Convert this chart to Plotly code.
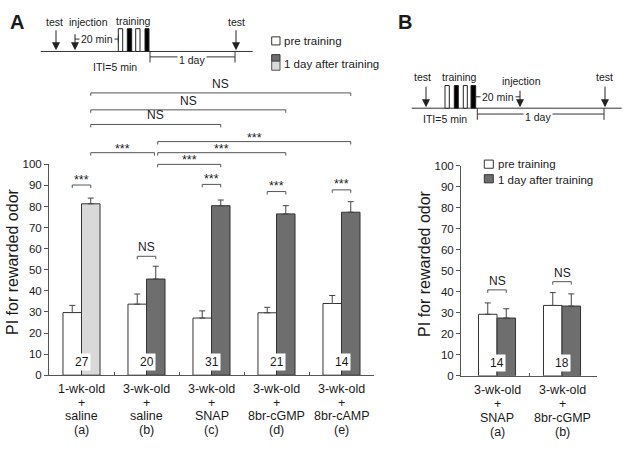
import plotly.graph_objects as go

# ---------------- data ----------------
groups_A = [0, 1, 2, 3, 4]
line1_A = ["1-wk-old", "3-wk-old", "3-wk-old", "3-wk-old", "3-wk-old"]
line2_A = ["+", "+", "+", "+", "+"]
line3_A = ["saline", "saline", "SNAP", "8br-cGMP", "8br-cAMP"]
line4_A = ["(a)", "(b)", "(c)", "(d)", "(e)"]
pre_A = [29.7, 33.7, 27.1, 29.6, 34.0]
pre_err_A = [3.4, 4.8, 3.4, 2.6, 3.8]
post_A = [81.3, 45.6, 80.4, 76.5, 77.3]
post_err_A = [2.7, 6.1, 2.7, 3.9, 5.0]
n_A = ["27", "20", "31", "21", "14"]

groups_B = [0, 1]
line1_B = ["3-wk-old", "3-wk-old"]
line2_B = ["+", "+"]
line3_B = ["SNAP", "8br-cGMP"]
line4_B = ["(a)", "(b)"]
pre_B = [29.3, 33.5]
pre_err_B = [5.4, 6.1]
post_B = [27.5, 33.2]
post_err_B = [4.4, 5.8]
n_B = ["14", "18"]

legend_labels = ["pre training", "1 day after training"]
y_title = "PI for rewarded odor"

# within-group comparisons (group, bracket level, label)
within_A = [(0, 90.2, "***"), (1, 56.4, "NS"), (2, 90.5, "***"), (3, 87.1, "***"), (4, 87.9, "***")]
within_B = [(0, 40.9, "NS"), (1, 44.8, "NS")]
# between-group comparisons of post-training bars (from, to, label)
between_A = [(0, 4, "NS"), (0, 3, "NS"), (0, 2, "NS"), (1, 4, "***"),
             (0, 1, "***"), (1, 3, "***"), (1, 2, "***")]
between_rows_px = [89.3, 106.7, 121.7, 139.3, 150.7, 150.7, 162.7]

# ---------------- style ----------------
W, H = 630, 450
FONT = "Liberation Sans, Arial, sans-serif"
TXT = "#1a1a1a"
LINE = "#555555"
DARK = "#6e6e6e"
LIGHT = "#d9d9d9"
BW = 0.285  # bar width in category units


def px(x):
    return x / W


def py(y):
    return 1 - y / H


fig = go.Figure()


def err(arr):
    return dict(type="data", array=arr, arrayminus=[0] * len(arr), symmetric=False,
                color="#444", thickness=1, width=3)


fig.add_trace(go.Bar(x=groups_A, y=pre_A, error_y=err(pre_err_A), offsetgroup="pre",
                     marker=dict(color="white", line=dict(color="#333", width=1)),
                     xaxis="x", yaxis="y", showlegend=False, name=legend_labels[0]))
fig.add_trace(go.Bar(x=groups_A, y=post_A, error_y=err(post_err_A), offsetgroup="post",
                     marker=dict(color=[LIGHT] + [DARK] * 4, line=dict(color="#333", width=1)),
                     xaxis="x", yaxis="y", showlegend=False, name=legend_labels[1]))
fig.add_trace(go.Bar(x=groups_B, y=pre_B, error_y=err(pre_err_B), offsetgroup="pre",
                     marker=dict(color="white", line=dict(color="#333", width=1)),
                     xaxis="x2", yaxis="y2", showlegend=False, name=legend_labels[0]))
fig.add_trace(go.Bar(x=groups_B, y=post_B, error_y=err(post_err_B), offsetgroup="post",
                     marker=dict(color=DARK, line=dict(color="#333", width=1)),
                     xaxis="x2", yaxis="y2", showlegend=False, name=legend_labels[1]))

shapes = []
ann = []


def text(x, y, s, size=12, xref="paper", yref="paper", xanchor="center", yanchor="middle",
         bg=None, **kw):
    d = dict(x=x, y=y, text=s, xref=xref, yref=yref, showarrow=False, xanchor=xanchor,
             yanchor=yanchor, font=dict(family=FONT, size=size, color=TXT), borderpad=0)
    if bg:
        d["bgcolor"] = bg
    d.update(kw)
    ann.append(d)


def line(x0, y0, x1, y1, color=LINE, width=1, xref="paper", yref="paper"):
    shapes.append(dict(type="line", x0=x0, y0=y0, x1=x1, y1=y1, xref=xref, yref=yref,
                       line=dict(color=color, width=width)))


def rect(x0, y0, x1, y1, fill, color="#222", xref="paper", yref="paper", width=1):
    shapes.append(dict(type="rect", x0=x0, y0=y0, x1=x1, y1=y1, xref=xref, yref=yref,
                       fillcolor=fill, line=dict(color=color, width=width)))


def bracket(x0, x1, y, drop, xref, yref):
    shapes.append(dict(type="path", xref=xref, yref=yref,
                       path=f"M {x0},{y - drop} L {x0},{y} L {x1},{y} L {x1},{y - drop}",
                       line=dict(color=LINE, width=1)))


def arrow(x, tip, tail):
    ann.append(dict(x=px(x), y=py(tip), xref="paper", yref="paper", text="", showarrow=True,
                    ax=0, ay=-(tip - tail), axref="pixel", ayref="pixel", arrowhead=2,
                    arrowsize=1.6, arrowwidth=1, arrowcolor="#222", standoff=0))


# ---- within-group brackets ----
for xr, yr, within in (("x", "y", within_A), ("x2", "y2", within_B)):
    for g, lvl, lab in within:
        bracket(g - BW / 2, g + BW / 2, lvl, 1.4, xr, yr)
        if lab == "NS":
            text(g, lvl + 4.3, lab, size=12, xref=xr, yref=yr)
        else:
            text(g, lvl + 2.6, lab, size=12.5, xref=xr, yref=yr)

# ---- between-group brackets (post bars) ----
for (g0, g1, lab), ypx in zip(between_A, between_rows_px):
    x0 = g0 + BW / 2 + (0.03 if g0 == 1 else 0.0)
    x1 = g1 + BW / 2 - (0.02 if g1 == 1 else 0.0)
    bracket(x0, x1, py(ypx), 3 / H, "x", "paper")
    if lab == "NS":
        text((x0 + x1) / 2, py(ypx - 9.5), lab, size=12, xref="x")
    else:
        text((x0 + x1) / 2, py(ypx - 4.0), lab, size=12.5, xref="x")

# ---- n labels ----
for g, n in zip(groups_A, n_A):
    text(g, 6.3, n, size=12, xref="x", yref="y", bg="white", borderpad=1)
for g, n in zip(groups_B, n_B):
    text(g, 6.2, n, size=12, xref="x2", yref="y2", bg="white", borderpad=1)

# ---- category labels ----
for xr, groups, lines, y0 in (("x", groups_A, (line1_A, line2_A, line3_A, line4_A), 393.3),
                              ("x2", groups_B, (line1_B, line2_B, line3_B, line4_B), 394.8)):
    for k, lst in enumerate(lines):
        for g, s in zip(groups, lst):
            text(g, py(y0 + 14.2 * k), s, size=12.5, xref=xr)

# ---- y titles ----
text(px(13), py(263), y_title, size=16, textangle=-90)
text(px(425), py(265), y_title, size=16, textangle=-90)

# ---- panel letters ----
text(px(16.7), py(16.3), "<b>A</b>", size=20)
text(px(405.3), py(16.3), "<b>B</b>", size=20)

# ---- timeline A ----
line(px(40.7), py(46.7), px(252.7), py(46.7), color="#333")
text(px(54), py(16), "test", size=10.5)
arrow(56, 45.5, 24)
text(px(88), py(16), "injection", size=10.5)
arrow(75, 45.5, 28)
text(px(133), py(15), "training", size=10.5)
for x0, x1, f in ((118.3, 122.7, "white"), (127.3, 131.7, "black"), (135.7, 140, "white"), (145, 149, "black")):
    rect(px(x0), py(46.7), px(x1), py(23.3), f)
line(px(75), py(34), px(118.3), py(34), color="#333")
line(px(118.3), py(30.5), px(118.3), py(37.5), color="#333")
text(px(97), py(34), "20 min", size=10.5, bg="white", borderpad=1)
text(px(236), py(16), "test", size=10.5)
arrow(236, 45.5, 24)
text(px(115), py(62.5), "ITI=5 min", size=10.5)
line(px(150), py(52.3), px(235), py(52.3), color="#333")
line(px(150), py(47), px(150), py(58), color="#333")
line(px(235), py(47), px(235), py(58), color="#333")
text(px(192), py(55.5), "1 day", size=10.5, bg="white", borderpad=1)
# legend A
rect(px(271.7), py(40), px(280), py(31.7), "white", color="#333")
rect(px(271.7), py(56.7), px(280), py(50), DARK, color="#333")
rect(px(271.7), py(66), px(280), py(56.7), LIGHT, color="#555")
text(px(283.3), py(36), legend_labels[0], size=11.5, xanchor="left")
text(px(283.3), py(60), legend_labels[1], size=11.5, xanchor="left")

# ---- timeline B ----
line(px(411.7), py(105), px(621.7), py(105), color="#333")
text(px(422.7), py(73), "test", size=10.5)
arrow(426, 104, 82)
text(px(459.3), py(72.7), "training", size=10.5)
for x0, x1, f in ((445, 449.3, "white"), (454.3, 458.3, "black"), (463.3, 467.3, "white"), (471, 475.7, "black")):
    rect(px(x0), py(105), px(x1), py(81.7), f)
line(px(475.7), py(93.3), px(520), py(93.3), color="#333")
text(px(498.3), py(93.3), "20 min", size=10.5, bg="white", borderpad=1)
text(px(521.7), py(77.3), "injection", size=10.5)
arrow(520, 104, 86)
text(px(604.3), py(73), "test", size=10.5)
arrow(605, 104, 82)
text(px(445), py(115.7), "ITI=5 min", size=10.5)
line(px(477.3), py(111), px(604), py(111), color="#333")
line(px(477.3), py(105), px(477.3), py(117), color="#333")
line(px(604), py(105), px(604), py(117), color="#333")
text(px(538.3), py(114.5), "1 day", size=10.5, bg="white", borderpad=1)
# legend B
rect(px(484.3), py(166.7), px(493.3), py(158.3), "white", color="#333")
rect(px(484.3), py(181.7), px(493.3), py(173.3), DARK, color="#333")
text(px(496.7), py(162.7), legend_labels[0], size=11.5, xanchor="left")
text(px(496.7), py(178.3), legend_labels[1], size=11.5, xanchor="left")

ax_common = dict(showline=True, linecolor=LINE, linewidth=1, showgrid=False, zeroline=False)
fig.update_layout(
    width=W, height=H, autosize=False,
    margin=dict(l=0, r=0, t=0, b=0),
    paper_bgcolor="white", plot_bgcolor="white",
    barmode="group", bargap=0.43, bargroupgap=0,
    font=dict(family=FONT, color=TXT),
    xaxis=dict(domain=[px(49), px(374)], range=[-0.5, 4.5], anchor="y", ticks="inside",
               tickvals=[0.5, 1.5, 2.5, 3.5], ticklen=3, tickcolor=LINE,
               showticklabels=False, **ax_common),
    yaxis=dict(domain=[py(379.3), py(162.7)], range=[0, 100], anchor="x", ticks="outside",
               tickvals=list(range(0, 101, 10)), ticklen=4, tickcolor=LINE,
               tickfont=dict(size=11.5, family=FONT, color=TXT), **ax_common),
    xaxis2=dict(domain=[px(461), px(597)], range=[-0.554, 1.538], anchor="y2", ticks="inside",
                tickvals=[0.5], ticklen=3, tickcolor=LINE, showticklabels=False, **ax_common),
    yaxis2=dict(domain=[py(380), py(164)], range=[0, 100], anchor="x2", ticks="outside",
                tickvals=list(range(0, 101, 10)), ticklen=4, tickcolor=LINE,
                tickfont=dict(size=11.5, family=FONT, color=TXT), **ax_common),
    shapes=shapes, annotations=ann,
)

fig.write_html("out.html", config={"displayModeBar": False},
               post_script="document.body.style.margin='0px';")
